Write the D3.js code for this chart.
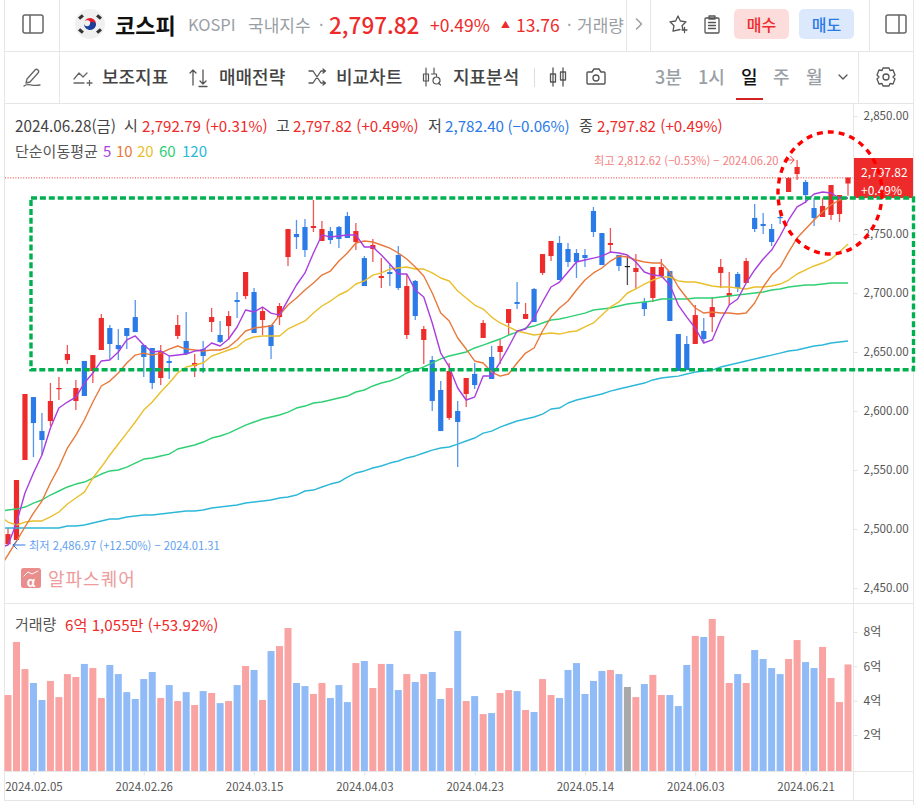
<!DOCTYPE html>
<html lang="ko"><head><meta charset="utf-8">
<script src="https://cdn.jsdelivr.net/npm/d3@7"></script>
<style>html,body{margin:0;padding:0;background:#fff;overflow:hidden}svg{display:block}text{font-family:"Noto Sans CJK KR","Noto Sans",sans-serif}</style>
</head><body><svg id="c" width="921" height="805"></svg>
<script>
const opens=[2487,2490.7,2558.5,2611.8,2583,2591.5,2618.6,2643.2,2608.5,2642.4,2633.9,2651.7,2670.3,2655.9,2670.3,2679.6,2655.9,2653.4,2628,2642.4,2663.6,2659.3,2638.1,2652.5,2675.4,2664.4,2672,2694.1,2697.4,2700.8,2677.1,2672.9,2679.6,2730.5,2750,2755.9,2755.1,2744.1,2752.5,2755.9,2765.2,2743.2,2729.6,2737.3,2712.7,2717.8,2732.2,2664.4,2710.2,2660.2,2643.2,2617.8,2594.1,2600,2614.4,2631.4,2661.9,2645.8,2650,2674.6,2692.4,2678,2703.4,2717,2731.3,2742.4,2737.3,2733.9,2732.2,2769.5,2750.8,2740.7,2732.2,2722.9,2717.8,2692.4,2695.8,2714.4,2718.6,2665.2,2656.8,2656.8,2667.8,2679.6,2717,2697.4,2716.1,2708.5,2763.6,2758.5,2754.2,2764.4,2785.6,2800.8,2794.1,2772,2764.4,2766.1,2766.9,2792.79];
const closes=[2495.7,2541.5,2614.4,2589.8,2575.4,2608.5,2619.5,2648.3,2619.5,2612.7,2647.4,2678.8,2656.8,2652.5,2663.6,2666.9,2645.8,2623.7,2650.8,2640.7,2672.9,2648.3,2640.7,2646.6,2679.6,2658.5,2680.5,2692.4,2717.8,2666.1,2684.7,2655.1,2689,2754.2,2747.4,2736.4,2756.8,2754.2,2744.9,2745.8,2746.6,2752.5,2705.9,2740.7,2714.4,2716.1,2704.2,2705.9,2680.5,2669.5,2608.5,2583,2633.9,2590.7,2628,2622,2674.6,2627.1,2655.1,2686.4,2690.7,2682.2,2675.4,2733,2744.1,2711,2726.3,2726.3,2729.6,2751.7,2723.7,2742.4,2722.9,2722.9,2721.2,2686.4,2722,2722,2676.3,2633.9,2634.7,2681.3,2661,2688.1,2722,2700,2704.2,2727.1,2754.2,2756.8,2743.2,2763.6,2797.4,2806.8,2783,2763.6,2773.7,2791.5,2783,2797.82];
const highs=[2500.8,2541.5,2614.4,2611.8,2598.3,2623.7,2628.8,2655.9,2626.3,2642.4,2647.4,2682.2,2672.9,2669.5,2670.3,2694.1,2655.9,2653.4,2655.9,2646.6,2681.3,2683.9,2648.3,2659.3,2687.3,2676.3,2684.7,2700.8,2717.8,2704.2,2688.1,2672.9,2691.5,2754.2,2761.9,2762.7,2778.8,2761,2755.9,2756.8,2768.6,2759.3,2731.3,2745.8,2729.6,2724.6,2739.8,2716.1,2711,2672,2646.6,2625.4,2640.7,2608.5,2628,2640.7,2677.1,2655.1,2661,2686.4,2709.3,2691.5,2704.2,2733,2744.1,2748.3,2742.4,2737.3,2737.3,2772.9,2750.8,2755.1,2732.2,2731.3,2733,2695.8,2722,2728.8,2718.6,2665.2,2663.6,2689.8,2678.8,2696.6,2728.8,2717.8,2717.8,2729.6,2775.4,2767.8,2758.5,2770.3,2798.3,2812.62,2795.8,2780.5,2780.5,2791.5,2783,2797.82];
const lows=[2486.97,2490.7,2558.5,2561,2562.7,2587.3,2609.3,2639.8,2600.8,2612.7,2623.7,2651.7,2643.2,2643.2,2652.5,2666.9,2628.8,2618.6,2622,2627.1,2661,2647.4,2628.8,2632.2,2666.9,2657.6,2660.2,2678.8,2694.9,2666.1,2664.4,2644.1,2672.9,2722.9,2737.3,2730.5,2751.7,2744.1,2741.5,2738.1,2746.6,2736.4,2705.9,2726.3,2704.2,2705.9,2702.5,2661,2677.1,2639.8,2600,2583,2592.4,2552.5,2603.4,2618.6,2661.9,2627.1,2639.8,2664.4,2686.4,2678,2675.4,2715.2,2727.1,2711,2722,2712.7,2722,2747.4,2723.7,2734.7,2718.6,2706.8,2703.4,2680.5,2692.4,2714.4,2676.3,2633.9,2634.7,2656.8,2658.5,2666.9,2704.2,2689.8,2700.8,2708.5,2751.7,2750,2739.8,2758.5,2785.6,2795.8,2776.3,2756.8,2764.4,2761.9,2760.2,2782.4];
// moving averages: the first value of each list belongs to the session just before the first candle
const ma5=[2484,2486.4,2505.1,2530.5,2547.5,2562.7,2585.6,2602.5,2607.6,2611.8,2623.7,2632.2,2642.4,2643.2,2650,2660.2,2663.6,2655.9,2650,2650.8,2646.6,2647.4,2648.3,2650.8,2651.7,2657.6,2655.1,2661,2671.2,2685.6,2683.9,2688.1,2683,2681.3,2694.1,2706.8,2717,2733.9,2749.2,2747.4,2748.3,2749.2,2749.2,2739,2739,2732.2,2724.6,2716.1,2716.1,2702.5,2696.6,2674.6,2649.1,2637.3,2619.5,2609.3,2611.8,2629.6,2629.6,2641.5,2654.2,2667.8,2669.5,2678.8,2692.4,2705.1,2709.3,2717.8,2726.3,2728,2729.6,2731.3,2734.7,2733.9,2732.2,2726.3,2717.8,2715.2,2714.4,2706.8,2689.8,2679.6,2670.3,2657.6,2660.2,2677.1,2689.8,2694.9,2708.5,2719.5,2728.8,2736.4,2748.3,2761.9,2772.9,2777.1,2783.9,2785.6,2784.7,2780.5,2780.5];
const ma10=[2466.9,2478,2489.8,2501.7,2513.5,2523.7,2539,2552.5,2568.6,2579.6,2592.4,2607.6,2621.2,2625.4,2632.2,2640.7,2647.4,2649.1,2647.4,2649.1,2652.5,2655.1,2652.5,2651.7,2650.8,2651.7,2651.7,2654.2,2660.2,2667.8,2670.3,2671.2,2672,2681.3,2689.8,2695.8,2702.5,2708.5,2715.2,2718.6,2727.1,2733.9,2742.4,2744.1,2743.2,2740.7,2738.1,2733.9,2728.8,2722,2714.4,2700,2683,2676.3,2661.9,2652.5,2642.4,2640.7,2633,2629.6,2631.4,2640.7,2649.1,2653.4,2667.8,2679.6,2687.3,2693.2,2702.5,2711,2717,2721.2,2727.1,2731.3,2730.5,2728,2726.3,2725.4,2725.4,2717.8,2705.1,2695.8,2687.3,2683,2683.9,2683,2683,2682.2,2683,2691.5,2705.1,2715.2,2722,2734.7,2746.6,2754.2,2761.9,2768.6,2774.6,2778.8,2780.5];
const ma20=[2511,2505.9,2503.4,2505.9,2506.8,2506.8,2510.2,2514.4,2521.2,2526.3,2531.3,2543.2,2552.5,2562.7,2572,2581.3,2590.7,2600.8,2607.6,2616.1,2623.7,2632.2,2637.3,2639,2640.7,2646.6,2649.1,2651.7,2654.2,2660.2,2662.7,2663.6,2663.6,2663.6,2669.5,2672.9,2676.3,2683,2689,2693.2,2698.3,2701.7,2707.6,2710.2,2715.2,2717,2720.3,2721.2,2722,2720.3,2720.3,2717,2712.7,2710.2,2701.7,2695.8,2689.8,2686.4,2679.6,2674.6,2671.2,2667.8,2666.1,2664.4,2665.2,2666.1,2665.2,2666.9,2667.8,2671.2,2674.6,2681.3,2688.1,2692.4,2700,2703.4,2707.6,2711,2713.5,2713.5,2710.2,2709.3,2709.3,2707.6,2705.9,2705.1,2705.1,2704.2,2703.4,2705.1,2705.1,2705.9,2707.6,2711,2716.1,2719.5,2722.9,2725.4,2728.8,2734.7,2741.5];
const ma60=[2514.9,2516.1,2516.9,2518.6,2522,2524.6,2528.8,2532.2,2535.6,2538.1,2539.8,2543.2,2546.6,2549.2,2550,2552.5,2555.9,2559.3,2560.2,2561.9,2563.5,2567.8,2569.5,2571.2,2573.7,2577.1,2578.8,2581.3,2584.7,2588.1,2590.7,2593.2,2594.9,2596.6,2599.1,2602.5,2604.2,2606.8,2607.6,2609.3,2611,2612.7,2616.1,2617.8,2621.2,2623.7,2625.4,2628,2632.2,2634.7,2637.3,2640.7,2644.1,2646.6,2648.3,2650,2653.4,2655.9,2658.5,2661,2664.4,2666.9,2670.3,2672,2674.6,2677.1,2678,2679.6,2681.3,2683,2685.6,2686.4,2687.3,2689,2690.7,2691.5,2692.4,2693.2,2694.9,2694.9,2694.9,2694.9,2695.8,2695.8,2695.8,2696.6,2697.4,2698.3,2699.1,2700,2700.8,2702.5,2703.4,2705.1,2705.9,2706.8,2706.8,2707.6,2708.5,2708.5,2708.5];
const ma120=[2500.8,2500.8,2500.8,2500.8,2500.8,2500.8,2500.8,2500.8,2502.5,2502.5,2503.4,2505.1,2506.8,2508.5,2508.5,2510.2,2511,2511.9,2511.9,2512.7,2513.5,2514.4,2515.2,2515.2,2516.1,2517.8,2518.6,2519.5,2520.3,2522,2522.9,2523.7,2524.6,2526.3,2527.1,2528.8,2532.2,2533,2535.6,2538.1,2539.8,2544,2547.5,2549.2,2551.7,2553.4,2555.9,2557.6,2560.2,2561.9,2564.4,2566.9,2568.6,2569.5,2572,2574.6,2577.1,2581.3,2583,2586.4,2589,2591.5,2593.2,2594.9,2597.4,2601.7,2602.5,2606.8,2609.3,2611,2612.7,2614.4,2616.9,2618.6,2620.3,2622,2623.7,2626.3,2628,2628.8,2629.6,2631.4,2633,2633.9,2634.7,2637.3,2639,2640.7,2642.4,2644.1,2645.8,2647.4,2649.1,2650.8,2651.7,2653.4,2655.1,2655.9,2657.6,2658.5,2659.3];
const volume=[4.33,7.42,5.84,5.03,4.04,5.15,4.21,5.55,5.38,6.14,5.9,4.16,6.08,5.55,4.5,4.1,5.26,5.67,4.16,4.91,3.98,4.5,3.75,4.56,4.45,3.86,3.98,4.91,6.02,5.79,4.04,6.89,7.18,8.23,5.03,4.85,4.39,5.03,4.16,4.91,3.92,6.19,6.31,4.74,6.14,6.14,4.62,5.55,5.09,5.55,5.67,4.1,4.74,8.06,3.98,4.27,3.22,3.28,4.45,4.62,4.56,3.46,3.34,5.26,4.33,4.16,5.79,6.19,4.39,5.15,5.73,5.79,5.55,4.8,4.21,4.97,5.5,4.33,4.33,3.69,6.08,7.77,7.71,8.76,7.77,5.03,5.55,5.03,6.95,6.43,5.9,5.55,6.43,7.53,6.25,5.9,7.13,5.32,3.92,6.11];
const priceTicks=[2450,2500,2550,2600,2650,2700,2750,2850];
const volumeTicks=[2,4,6,8];
const dateTickIndex=[3,16,29,42,55,68,81,94];
const dateTickLabels=["2024.02.05","2024.02.26","2024.03.15","2024.04.03","2024.04.23","2024.05.14","2024.06.03","2024.06.21"];
const maPeriods=["5","10","20","60","120"];
const maColors=["#a93ee0","#e8793a","#e9bf2c","#2fcf74","#2db8d8"];

const RED="#ee2b2b",BLUE="#2a7ae8",GRAY="#666",LINE="#e6e6e6";
const svg=d3.select("#c");
const x=d3.scaleLinear().domain([0,99]).range([8,848]);
const y=d3.scaleLinear().domain([2450,2850]).range([588,116]);
const v=d3.scaleLinear().domain([0,8]).range([769.4,632]);
const BASE=771;
function T(tx,ty,s,o={}){return svg.append("text").attr("x",tx).attr("y",ty).attr("fill",o.fill||GRAY).attr("font-size",o.size||14).attr("font-weight",o.weight||400).attr("text-anchor",o.anchor||"start").attr("letter-spacing",o.ls||0).attr("dominant-baseline","central").text(s);}
function L(a,b,c,d,col){return svg.append("line").attr("x1",a).attr("y1",b).attr("x2",c).attr("y2",d).attr("stroke",col||LINE).attr("stroke-width",1);}
function P(d,tx,ty,col,sw){return svg.append("path").attr("d",d).attr("transform",`translate(${tx},${ty})`).attr("fill","none").attr("stroke",col||"#555").attr("stroke-width",sw||1.4).attr("stroke-linecap","round").attr("stroke-linejoin","round");}

// frame
L(4.5,0,4.5,800);L(913.5,0,913.5,805);L(59.5,0,59.5,103);L(4,51.5,914,51.5);L(4,103.5,914,103.5);L(4,603.5,914,603.5);L(4,800.5,914,800.5);
L(626.5,0,626.5,51);L(650.5,0,650.5,51);L(869.5,0,869.5,51);L(858.5,52,858.5,103);L(853.5,104,853.5,800);

// header row 1
P("M-8 -9H8a2 2 0 0 1 2 2V7a2 2 0 0 1 -2 2H-8a2 2 0 0 1 -2 -2V-7a2 2 0 0 1 2 -2ZM-3 -9V9",33,24,"#666",1.5);
svg.append("circle").attr("cx",90).attr("cy",24).attr("r",15).attr("fill","#f0f0f0");
svg.append("path").attr("d","M-6 0A6 6 0 0 1 6 0A3 3 0 0 1 0 0A3 3 0 0 0 -6 0Z").attr("transform","translate(90,24) rotate(15)").attr("fill","#e02030");
svg.append("path").attr("d","M-6 0A3 3 0 0 0 0 0A3 3 0 0 1 6 0A6 6 0 0 1 -6 0Z").attr("transform","translate(90,24) rotate(15)").attr("fill","#1a3f9c");
[[-9,-7,-40],[9,-7,40],[-9,7,40],[9,7,-40]].forEach(d=>svg.append("rect").attr("x",-2.5).attr("y",-1.6).attr("width",5).attr("height",3.2).attr("transform",`translate(${90+d[0]},${24+d[1]}) rotate(${d[2]})`).attr("fill","#333"));
T(115,23.5,"코스피",{fill:"#111",size:22,weight:700});
T(188,24,"KOSPI",{fill:"#9a9fa6",size:16.5});
T(248,24,"국내지수",{fill:"#9a9fa6",size:17});
T(319,24,"·",{fill:"#9a9fa6",size:16});
T(329,24,"2,797.82",{fill:RED,size:22.5,weight:500});
T(430,24,"+0.49%",{fill:RED,size:17.5});
T(501,24,"▲",{fill:RED,size:9});
T(516,24,"13.76",{fill:RED,size:17.5});
T(567,24,"·",{fill:"#9a9fa6",size:16});
T(577,24,"거래량",{fill:"#9a9fa6",size:17});
P("M-2.5 -5L2.5 0L-2.5 5",639,24,"#999",1.4);
P("M0 -8L2.4 -3L8 -2.2L4 1.7L5 6M2 5.5L-5 7.2L-4 1.7L-8 -2.2L-2.4 -3L0 -8M4 6H9M6.5 3.5V8.5",678,24,"#555",1.3);
P("M-6 -6H6a1 1 0 0 1 1 1V8a1 1 0 0 1 -1 1H-6a1 1 0 0 1 -1 -1V-5a1 1 0 0 1 1 -1ZM-3 -8H3V-5H-3ZM-3.5 -1.5H3.5M-3.5 1.5H3.5M-3.5 4.5H3.5",712,24,"#555",1.3);
svg.append("rect").attr("x",734).attr("y",9).attr("width",55).attr("height",30).attr("rx",5).attr("fill","#fddcdc");
svg.append("rect").attr("x",799).attr("y",9).attr("width",55).attr("height",30).attr("rx",5).attr("fill","#dce9fc");
T(761.5,23.5,"매수",{fill:RED,size:16,weight:500,anchor:"middle"});
T(826.5,23.5,"매도",{fill:BLUE,size:16,weight:500,anchor:"middle"});
P("M-8 -9H8a2 2 0 0 1 2 2V7a2 2 0 0 1 -2 2H-8a2 2 0 0 1 -2 -2V-7a2 2 0 0 1 2 -2ZM3 -9V9",896,24,"#666",1.5);

// header row 2
P("M-5 3L3 -6a2 2 0 0 1 3 3L-2 6L-6 7ZM-8 10C-4 6 -1 11 8 9",32,76,"#666",1.3);
P("M-8 2L-3 -4L1 0L5 -4M-8 6H2M5 6H10M7.5 3.5V8.5",82,77,"#666",1.3);
T(102,76,"보조지표",{fill:"#444",size:18,weight:500});
P("M-6 8V-7M-9 -4L-6 -7L-3 -4M4 -7V7M1 4L4 7L7 4M0 9.5H8",199,77,"#555",1.3);
T(219,76,"매매전략",{fill:"#444",size:18,weight:500});
P("M-8 -6H-4L4 6H8M-8 6H-4L4 -6H8M6 -8L8.5 -6L6 -4M6 4L8.5 6L6 8",317,77,"#555",1.3);
T(336,76,"비교차트",{fill:"#444",size:18,weight:500});
P("M-6 -9V9M-8.5 -3H-3.5V4H-8.5ZM2 -9V-3M-0.5 -3H4.5V0M8.5 8L6.5 6M1 3.5A3.5 3.5 0 1 0 8 3.5A3.5 3.5 0 1 0 1 3.5",432,77,"#555",1.2);
T(453,76,"지표분석",{fill:"#444",size:18,weight:500});
L(534.5,68,534.5,87,"#ddd");
P("M-5 -9V9M-7.5 -3H-2.5V5H-7.5ZM5 -9V9M2.5 -5H7.5V3H2.5Z",558,77,"#555",1.3);
P("M-8 -5H-4L-2 -8H3L5 -5H8a1 1 0 0 1 1 1V6a1 1 0 0 1 -1 1H-8a1 1 0 0 1 -1 -1V-4a1 1 0 0 1 1 -1Z",596,77,"#555",1.4);
svg.append("circle").attr("cx",596).attr("cy",78).attr("r",3).attr("fill","none").attr("stroke","#555").attr("stroke-width",1.3);
T(655,76,"3분",{fill:"#9a9fa6",size:18,weight:500});
T(698,76,"1시",{fill:"#9a9fa6",size:18,weight:500});
T(741,76,"일",{fill:"#111",size:18,weight:500});
T(773,76,"주",{fill:"#9a9fa6",size:18,weight:500});
T(806,76,"월",{fill:"#9a9fa6",size:18,weight:500});
P("M-4 -2L0 2L4 -2",843,77,"#555",1.3);
P("M-3 -9H3L4 -6.5L7 -7L9 -2L7 0L9 2L7 7L4 6.5L3 9H-3L-4 6.5L-7 7L-9 2L-7 0L-9 -2L-7 -7L-4 -6.5Z",886,77,"#555",1.3);
svg.append("circle").attr("cx",886).attr("cy",77).attr("r",3).attr("fill","none").attr("stroke","#555").attr("stroke-width",1.3);
svg.append("rect").attr("x",736).attr("y",98).attr("width",27).attr("height",2).attr("fill","#d32020");

// info lines
T(15,124.5,"2024.06.28(금)",{fill:"#444",size:15.3});
T(124,124.5,"시",{fill:"#444",size:15});
T(142,124.5,"2,792.79 (+0.31%)",{fill:RED,size:15.2});
T(276,124.5,"고",{fill:"#444",size:15});
T(293,124.5,"2,797.82 (+0.49%)",{fill:RED,size:15.2});
T(428,124.5,"저",{fill:"#444",size:15});
T(445,124.5,"2,782.40 (−0.06%)",{fill:BLUE,size:15.2});
T(579,124.5,"종",{fill:"#444",size:15});
T(597,124.5,"2,797.82 (+0.49%)",{fill:RED,size:15.2});
T(15,150.5,"단순이동평균",{fill:"#555",size:15});
const maLegendX=[103,116,137,159,182];
maPeriods.forEach((p,i)=>T(maLegendX[i],150.5,p,{fill:maColors[i],size:15}));

// watermark
svg.append("rect").attr("x",21).attr("y",568).attr("width",20).attr("height",20).attr("rx",2.5).attr("fill","#ea8d8d");
P("M-7 -2L-3 -6L1 -4L7 -7",31,578,"#fff",1);
T(31,581,"α",{fill:"#fff",size:13,anchor:"middle",weight:700});
T(48,578,"알파스퀘어",{fill:"#ec9c9c",size:18,ls:1});

// axes
const gy=svg.append("g").attr("transform","translate(853.5,0)").call(d3.axisRight(y).tickValues(priceTicks).tickFormat(d3.format(",.2f")).tickSize(4).tickPadding(6));
const gv=svg.append("g").attr("transform","translate(853.5,0)").call(d3.axisRight(v).tickValues(volumeTicks).tickFormat(d=>d+"억").tickSize(4).tickPadding(6));
const gx=svg.append("g").attr("transform",`translate(0,${BASE+.5})`).call(d3.axisBottom(x).tickValues(dateTickIndex).tickFormat((d,i)=>dateTickLabels[i]).tickSize(4).tickPadding(5));
[gy,gv,gx].forEach(g=>{g.selectAll(".domain").remove();g.selectAll("line").attr("stroke","#e4e4e4");g.selectAll("text").attr("fill","#555").attr("font-size",12).style("font-family",'"Noto Sans CJK KR","Noto Sans",sans-serif');});
gy.selectAll("text").attr("font-size",11.6);
gx.selectAll("text").attr("font-size",11.5).attr("dy","0.9em");
L(4,BASE+.5,914,BASE+.5,"#e8e8e8");

const candleColor=i=>closes[i]>opens[i]?RED:closes[i]<opens[i]?BLUE:"#222";
const volColor=i=>closes[i]>opens[i]?"#f9a3a3":closes[i]<opens[i]?"#90bbf6":"#a9a9a9";

// volume
svg.append("g").selectAll("rect").data(volume).join("rect")
 .attr("x",(d,i)=>x(i)-3.5).attr("width",7).attr("y",d=>v(d)).attr("height",d=>BASE-v(d)).attr("fill",(d,i)=>volColor(i));

// candles
const idx=d3.range(opens.length);
const cg=svg.append("g");
cg.selectAll("line").data(idx).join("line").attr("x1",i=>x(i)).attr("x2",i=>x(i)).attr("y1",i=>y(highs[i])).attr("y2",i=>y(lows[i])).attr("stroke",candleColor).attr("stroke-width",1.3).attr("stroke-opacity",.8);
cg.selectAll("rect").data(idx).join("rect").attr("x",i=>x(i)-2.6).attr("width",5.2)
 .attr("y",i=>y(Math.max(opens[i],closes[i]))).attr("height",i=>Math.max(1.2,Math.abs(y(opens[i])-y(closes[i])))).attr("fill",candleColor);

// moving averages, clipped to the plot's left edge
svg.append("clipPath").attr("id","plot").append("rect").attr("x",5).attr("y",104).attr("width",849).attr("height",499);
const lineGen=d3.line().x((d,i)=>x(i-1)).y(d=>y(d));
[[ma120,4],[ma60,3],[ma20,2],[ma10,1],[ma5,0]].forEach(([s,c])=>svg.append("path").datum(s).attr("d",lineGen).attr("clip-path","url(#plot)").attr("fill","none").attr("stroke",maColors[c]).attr("stroke-width",1.4).attr("stroke-linejoin","round"));

// current-price dotted line
L(5,y(closes[99])+.3,853,y(closes[99])+.3,"#ee3a3a").attr("stroke-dasharray","1 1.6");

// hi / lo labels
T(594,160,"최고 2,812.62 (−0.53%) − 2024.06.20",{fill:"#f48080",size:11.2});
P("M0 0H10M6.5 -4L10 0L6.5 4",784,160,"#ee4a4a",1);
T(29,545,"최저 2,486.97 (+12.50%) − 2024.01.31",{fill:"#629ff0",size:11.2});
P("M0 0H-12M-8 -4L-12 0L-8 4",25,545,"#2a7ae8",1);

// current price tag
svg.append("rect").attr("x",854).attr("y",158).attr("width",59).attr("height",40).attr("fill",RED);
T(861,171,"2,797.82",{fill:"#fff",size:12});
T(861,189,"+0.49%",{fill:"#fff",size:12});

// annotations
svg.append("rect").attr("x",31).attr("y",198).attr("width",882.5).attr("height",171.7).attr("fill","none").attr("stroke","#00b050").attr("stroke-width",3.4).attr("stroke-dasharray","6 2.9");
svg.append("ellipse").attr("cx",830).attr("cy",193).attr("rx",52).attr("ry",61).attr("fill","none").attr("stroke","#ff0000").attr("stroke-width",3.4).attr("stroke-dasharray","6 5");

// volume title
T(15,623.5,"거래량",{fill:"#555",size:15});
T(65,623.5,"6억 1,055만 (+53.92%)",{fill:RED,size:15.2});
</script></body></html>
